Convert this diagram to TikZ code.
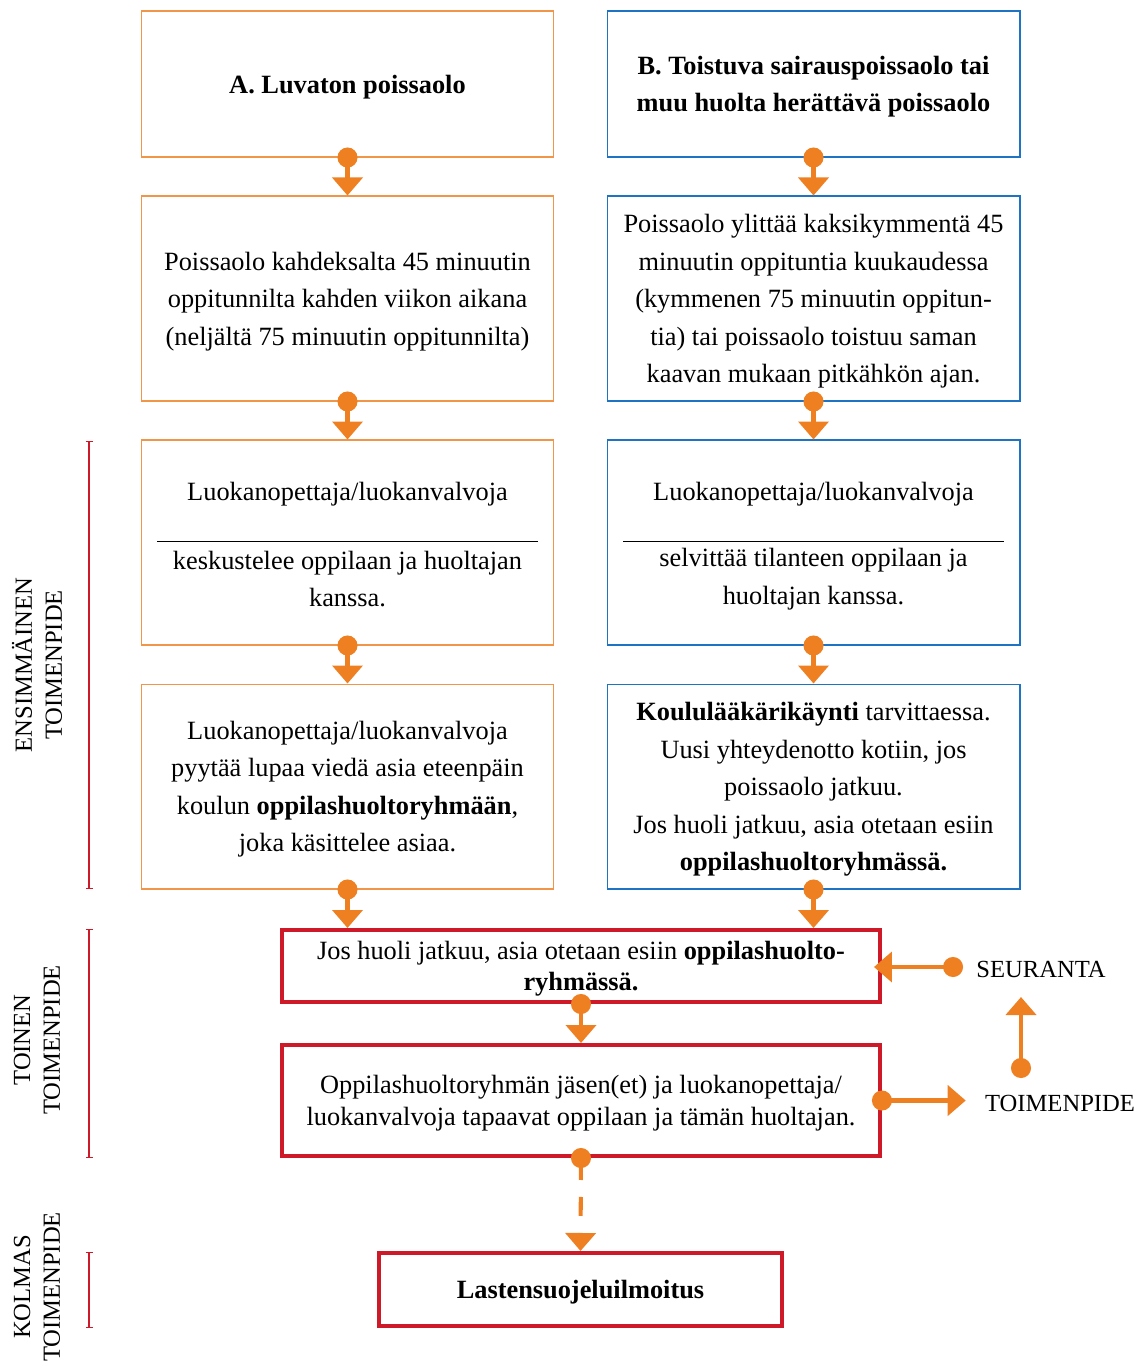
\documentclass[tikz,border=0pt]{standalone}
\usepackage{fontspec}
\setmainfont{Liberation Serif}
\usetikzlibrary{arrows.meta}
\definecolor{oranssi}{RGB}{238,128,34}
\definecolor{oranssireuna}{RGB}{241,150,72}
\definecolor{sininen}{RGB}{30,115,195}
\definecolor{punainen}{RGB}{205,25,40}

\begin{document}
\begin{tikzpicture}[x=0.02cm,y=-0.02cm,
  teksti/.style={font=\fontsize{15}{21.3}\selectfont,align=center},
  laatikkoA/.style={teksti,draw=oranssireuna,line width=0.6pt,minimum width=8.26cm,minimum height=4.1cm,text depth=-5pt},
  laatikkoB/.style={laatikkoA,draw=sininen},
  laatikkoC/.style={teksti,draw=punainen,line width=2.3pt,minimum width=11.96cm,font=\fontsize{15}{18}\selectfont,text depth=-3.6pt},
  nuoli/.style={draw=oranssi,line width=2.3pt,{Circle[length=0.4cm]}-{Triangle[width=0.6cm,length=0.36cm]},shorten <=-0.2cm},
  sivu/.style={font=\fontsize{14}{17}\selectfont,align=center},
  sulje/.style={draw=punainen,line width=0.8pt,{Bar[width=0.14cm]}-{Bar[width=0.14cm]}}]
\useasboundingbox (0,0) rectangle (1139,1362);

% vasen sarake
\node [laatikkoA,minimum height=2.92cm] (a1) at (347.5,84) {\textbf{A. Luvaton poissaolo}};
\node [laatikkoA] (a2) at (347.5,298.5) {Poissaolo kahdeksalta 45 minuutin\\oppitunnilta kahden viikon aikana\\(neljältä 75 minuutin oppitunnilta)};
\node [laatikkoA,text depth=] (a3) at (347.5,542.5) {};
\node [teksti] (a3yla) at (347.5,494) {Luokanopettaja/luokanvalvoja};
\node [teksti] (a3ala) at (347.5,579) {keskustelee oppilaan ja huoltajan\\kanssa.};
\node [laatikkoA] (a4) at (347.5,786.5) {Luokanopettaja/luokanvalvoja\\pyytää lupaa viedä asia eteenpäin\\koulun \textbf{oppilashuoltoryhmään},\\joka käsittelee asiaa.};

% oikea sarake
\node [laatikkoB,minimum height=2.92cm] (b1) at (813.5,84) {\textbf{B. Toistuva sairauspoissaolo tai}\\\textbf{muu huolta herättävä poissaolo}};
\node [laatikkoB] (b2) at (813.5,298.5) {Poissaolo ylittää kaksikymmentä 45\\minuutin oppituntia kuukaudessa\\(kymmenen 75 minuutin oppitun-\\tia) tai poissaolo toistuu saman\\kaavan mukaan pitkähkön ajan.};
\node [laatikkoB,text depth=] (b3) at (813.5,542.5) {};
\node [teksti] (b3yla) at (813.5,494) {Luokanopettaja/luokanvalvoja};
\node [teksti] (b3ala) at (813.5,579) {selvittää tilanteen oppilaan ja\\huoltajan kanssa.};
\node [laatikkoB] (b4) at (813.5,786.5) {\textbf{Koululääkärikäynti} tarvittaessa.\\Uusi yhteydenotto kotiin, jos\\poissaolo jatkuu.\\Jos huoli jatkuu, asia otetaan esiin\\\textbf{oppilashuoltoryhmässä.}};

\draw (157,541) -- (538,541);
\draw (623,541) -- (1004,541);

% yhteiset
\node [laatikkoC,minimum height=1.44cm] (ohr1) at (581,966) {Jos huoli jatkuu, asia otetaan esiin \textbf{oppilashuolto-}\\\textbf{ryhmässä.}};
\node [laatikkoC,minimum height=2.22cm] (ohr2) at (581,1100.5) {Oppilashuoltoryhmän jäsen(et) ja luokanopettaja/\\luokanvalvoja tapaavat oppilaan ja tämän huoltajan.};
\node [laatikkoC,minimum width=8.06cm,minimum height=1.46cm] (lsi) at (580.5,1289.5) {\textbf{Lastensuojeluilmoitus}};

\node [sivu,inner xsep=0.46cm] (seur) at (1041,969) {SEURANTA};
\node [sivu,inner xsep=0.38cm] (toim) at (1060,1103) {TOIMENPIDE};
\coordinate (ylos1) at (1021,1068);
\coordinate (ylos2) at (1021,997);

% nuolet
\draw [nuoli] (a1.south) -- (a2.north);
\draw [nuoli] (a2.south) -- (a3.north);
\draw [nuoli] (a3.south) -- (a4.north);
\draw [nuoli] (a4.south) -- (a4.south |- ohr1.north);
\draw [nuoli] (b1.south) -- (b2.north);
\draw [nuoli] (b2.south) -- (b3.north);
\draw [nuoli] (b3.south) -- (b4.north);
\draw [nuoli] (b4.south) -- (b4.south |- ohr1.north);
\draw [nuoli] (ohr1.south) -- (ohr2.north);
\draw [nuoli,dash pattern=on 0.38cm off 0.34cm,dash phase=0.1cm] (ohr2.south) -- (lsi.north);
\draw [nuoli,shorten >=-0.16cm] (seur.west |- 0,967) -- (ohr1.east |- 0,967);
\draw [nuoli] (ohr2.east) -- (ohr2.east -| toim.west);
\draw [nuoli] (ylos1) -- (ylos2);

% vaiheet
\draw [sulje] (89,441) -- (89,889);
\draw [sulje] (89,929) -- (89,1158);
\draw [sulje] (89,1252) -- (89,1328);
\node [sivu,rotate=90] (ens) at (37,665) {ENSIMMÄINEN\\TOIMENPIDE};
\node [sivu,rotate=90] (toinen) at (37,1040) {TOINEN\\TOIMENPIDE};
\node [sivu,rotate=90] (kolmas) at (37,1287) {KOLMAS\\TOIMENPIDE};
\end{tikzpicture}
\end{document}
